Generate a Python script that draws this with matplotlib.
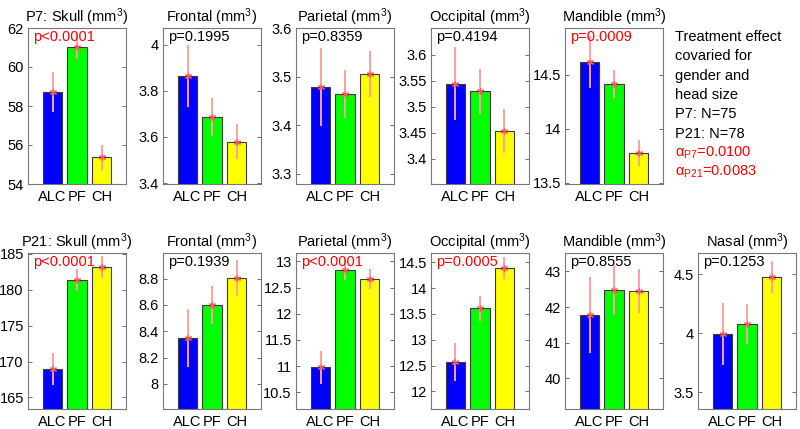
import matplotlib
matplotlib.use('Agg')
import matplotlib.pyplot as plt

plt.rcParams['font.family'] = ['Liberation Sans', 'DejaVu Sans']
plt.rcParams['mathtext.fontset'] = 'custom'
plt.rcParams['mathtext.rm'] = 'Liberation Sans'
plt.rcParams['mathtext.it'] = 'Liberation Sans:italic'
plt.rcParams['font.size'] = 10.5

groups = ['ALC', 'PF', 'CH']
bar_colors = ['#0000ff', '#00ff00', '#ffff00']

# P7 panels
p7_titles = ['P7: Skull', 'Frontal', 'Parietal', 'Occipital', 'Mandible']
p7_means = [[58.71, 61.05, 55.36],
            [3.865, 3.687, 3.580],
            [3.479, 3.464, 3.505],
            [3.544, 3.530, 3.454],
            [14.617, 14.414, 13.78]]
p7_err = [[1.04, 0.66, 0.63],
          [0.135, 0.082, 0.076],
          [0.080, 0.050, 0.048],
          [0.070, 0.043, 0.042],
          [0.24, 0.13, 0.12]]
p7_pvals = ['p<0.0001', 'p=0.1995', 'p=0.8359', 'p=0.4194', 'p=0.0009']
p7_sig = [True, False, False, False, True]
p7_ylim = [(54, 62), (3.396, 4.072), (3.279, 3.6), (3.352, 3.651), (13.49, 14.93)]
p7_yticks = [[54, 56, 58, 60, 62], [3.4, 3.6, 3.8, 4.0], [3.3, 3.4, 3.5, 3.6],
             [3.4, 3.45, 3.5, 3.55, 3.6], [13.5, 14, 14.5]]
p7_ylabels = [['54', '56', '58', '60', '62'], ['3.4', '3.6', '3.8', '4'],
              ['3.3', '3.4', '3.5', '3.6'], ['3.4', '3.45', '3.5', '3.55', '3.6'],
              ['13.5', '14', '14.5']]

# P21 panels
p21_titles = ['P21: Skull', 'Frontal', 'Parietal', 'Occipital', 'Mandible', 'Nasal']
p21_means = [[168.93, 181.35, 183.15],
             [8.347, 8.597, 8.805],
             [10.975, 12.84, 12.66],
             [12.565, 13.61, 14.39],
             [41.77, 42.48, 42.45],
             [3.995, 4.082, 4.475]]
p21_err = [[2.2, 1.5, 1.5],
           [0.22, 0.145, 0.135],
           [0.315, 0.20, 0.19],
           [0.37, 0.24, 0.22],
           [1.07, 0.70, 0.62],
           [0.26, 0.17, 0.135]]
p21_pvals = ['p<0.0001', 'p=0.1939', 'p<0.0001', 'p=0.0005', 'p=0.8555', 'p=0.1253']
p21_sig = [True, False, True, True, False, False]
p21_ylim = [(163.4, 185.1), (7.81, 8.995), (10.18, 13.16), (11.66, 14.68),
            (39.13, 43.52), (3.36, 4.68)]
p21_yticks = [[165, 170, 175, 180, 185], [8.0, 8.2, 8.4, 8.6, 8.8],
              [10.5, 11, 11.5, 12, 12.5, 13], [12, 12.5, 13, 13.5, 14, 14.5],
              [40, 41, 42, 43], [3.5, 4.0, 4.5]]
p21_ylabels = [['165', '170', '175', '180', '185'], ['8', '8.2', '8.4', '8.6', '8.8'],
               ['10.5', '11', '11.5', '12', '12.5', '13'],
               ['12', '12.5', '13', '13.5', '14', '14.5'],
               ['40', '41', '42', '43'], ['3.5', '4', '4.5']]

note_lines = ['Treatment effect', 'covaried for', 'gender and', 'head size',
              'P7: N=75', 'P21: N=78']
alpha_lines = [r'$\mathrm{\alpha_{P7}}$=0.0100', r'$\mathrm{\alpha_{P21}}$=0.0083']

fig = plt.figure(figsize=(8, 4.29), dpi=100)
lefts = [28, 163, 296, 431, 565, 698]
W, H = 800.0, 429.0


def panel(col, top_px, title, means, err, ptxt, sig, ylim, yticks, ylabels):
    ax = fig.add_axes([lefts[col] / W, 1 - (top_px + 156) / H, 98 / W, 156 / H])
    x = [1, 2, 3]
    ax.bar(x, means, width=0.8, color=bar_colors, edgecolor='#3a3a3a',
           linewidth=0.8, zorder=2)
    ax.errorbar(x, means, yerr=err, fmt='none', ecolor='#ffa0a0',
                elinewidth=1.4, capsize=0, zorder=3)
    ax.plot(x, means, linestyle='none', marker=(6, 2, 0), color='#ff5a5a',
            markersize=5, markeredgewidth=0.8, zorder=4)
    ax.set_xlim(0, 4)
    ax.set_ylim(*ylim)
    ax.set_xticks(x)
    ax.set_xticklabels(groups)
    ax.set_yticks(yticks)
    ax.set_yticklabels(ylabels)
    ax.tick_params(direction='in', length=3, width=0.6, color='#555555',
                   right=True, top=False, labelsize=10.5, pad=3)
    ax.tick_params(axis='x', length=0, pad=4)
    for s in ax.spines.values():
        s.set_color('#777777')
        s.set_linewidth(0.8)
    ax.set_title(title + r' (mm$^3$)', fontsize=10.5, pad=4)
    ax.text(0.05, 0.985, ptxt, transform=ax.transAxes, va='top', ha='left',
            fontsize=10.5, color='#ff0000' if sig else 'black', zorder=5)
    return ax


for i in range(5):
    panel(i, 28, p7_titles[i], p7_means[i], p7_err[i], p7_pvals[i], p7_sig[i],
          p7_ylim[i], p7_yticks[i], p7_ylabels[i])

for i in range(6):
    panel(i, 253, p21_titles[i], p21_means[i], p21_err[i], p21_pvals[i],
          p21_sig[i], p21_ylim[i], p21_yticks[i], p21_ylabels[i])

y0 = 37
step = 19.3
for k, line in enumerate(note_lines):
    fig.text(675 / W, 1 - (y0 + k * step) / H, line, va='center', ha='left',
             fontsize=10.5, color='black')
for k, line in enumerate(alpha_lines):
    fig.text(675 / W, 1 - (y0 + (len(note_lines) + k) * step) / H, line,
             va='center', ha='left', fontsize=10.5, color='#ff0000')

fig.savefig('out.png', dpi=100)
